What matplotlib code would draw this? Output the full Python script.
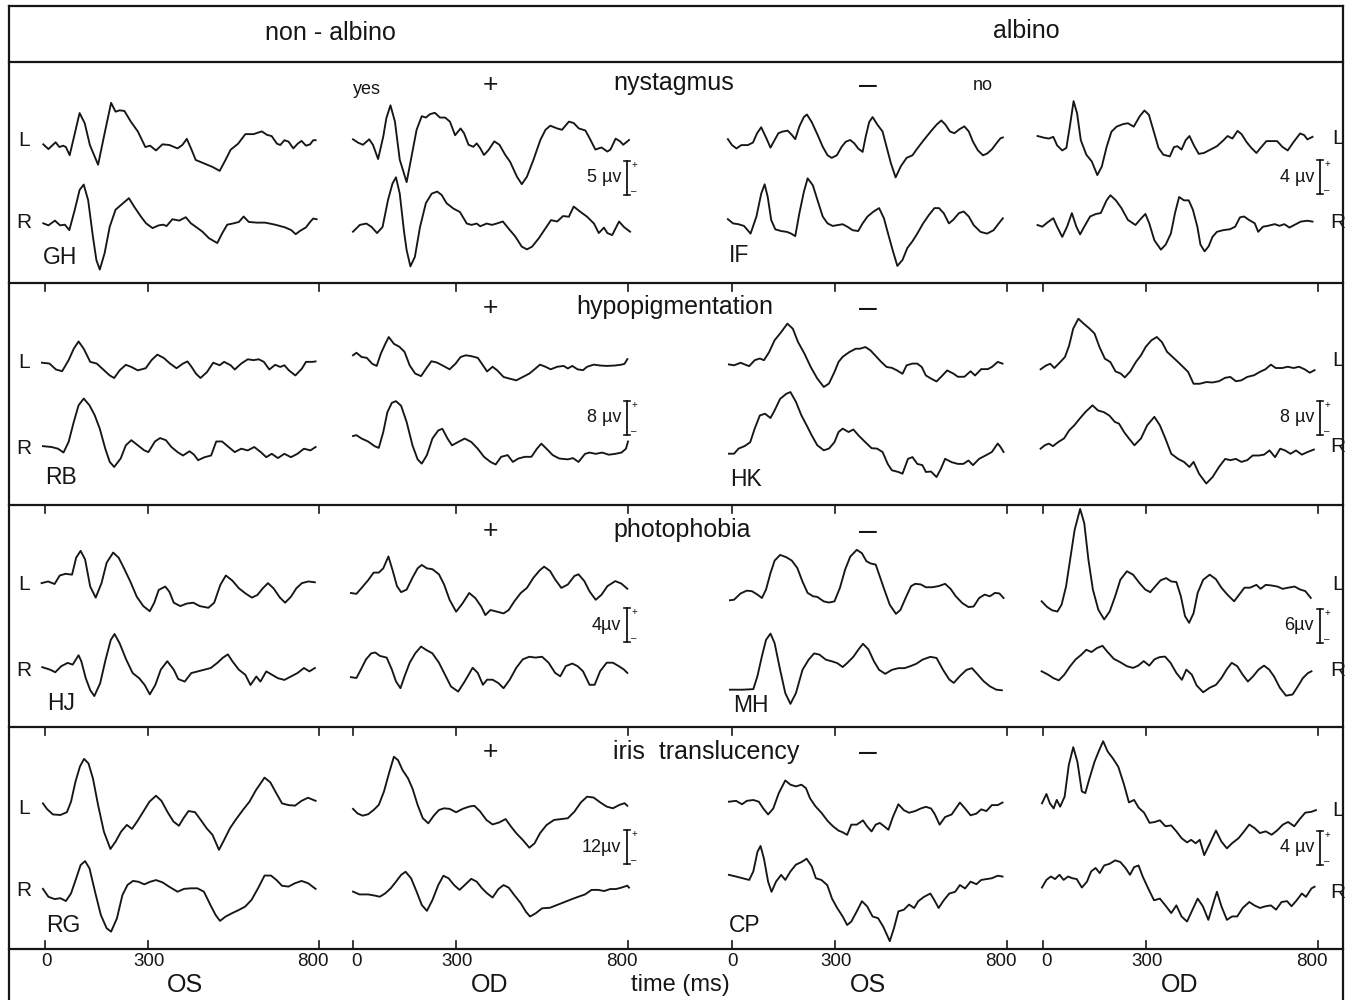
import matplotlib
matplotlib.use("Agg")
import matplotlib.pyplot as plt

plt.rcParams['font.family'] = ['Liberation Sans', 'DejaVu Sans']

# ---------------- data: (time ms, amplitude uV) ----------------
GH_OS_L = [(-5,0.1),(10,-0.6),(31,0.4),(42,-0.3),(53,-0.1),(61,-0.3),(72,-1.5),(87,1.7),(101,4.7),(116,3.2),(131,0.0),(155,-2.9),(174,1.7),(193,6.2),(206,4.9),(218,5.1),(232,5.0),(251,3.4),(271,2.0),(293,-0.3),(307,-0.1),(324,-0.8),(343,0.1),(363,0.0),(387,-0.5),(401,0.0),(414,0.9),(428,-0.7),(440,-2.2),(464,-2.7),(488,-3.2),(510,-3.8),(527,-2.2),(542,-0.7),(564,0.2),(585,1.6),(609,1.6),(633,2.0),(648,1.5),(662,1.3),(677,0.2),(687,0.0),(699,0.7),(711,0.5),(725,-0.5),(738,0.2),(749,0.6),(762,-0.1),(774,0.1),(783,0.7),(790,0.7)]
GH_OS_R = [(-5,0.1),(10,-0.2),(29,0.5),(44,-0.2),(58,-0.1),(71,-0.9),(87,2.1),(101,5.0),(113,5.8),(126,3.5),(140,-1.9),(150,-5.3),(160,-6.7),(174,-4.3),(189,-0.4),(206,2.1),(222,2.8),(245,3.8),(261,2.5),(280,1.1),(295,0.1),(314,-0.6),(332,-0.2),(345,-0.1),(355,-0.3),(372,0.7),(392,0.5),(411,1.0),(426,0.1),(440,-0.4),(459,-1.1),(479,-2.1),(503,-2.8),(517,-1.4),(532,-0.1),(551,0.1),(566,0.3),(580,1.1),(595,0.3),(619,0.2),(643,0.2),(672,-0.1),(701,-0.5),(719,-0.9),(732,-1.5),(745,-1.0),(762,-0.5),(774,0.3),(783,0.8),(793,0.7)]
GH_OD_L = [(0,0.1),(15,-0.4),(29,-0.7),(47,0.1),(58,-0.7),(73,-2.8),(88,0.5),(97,3.2),(109,5.1),(122,2.7),(136,-2.9),(156,-6.2),(170,-2.5),(185,1.5),(200,3.5),(212,3.3),(224,3.8),(238,4.0),(253,3.3),(268,3.3),(282,2.7),(297,0.7),(313,1.7),(323,1.0),(336,-0.7),(350,-1.0),(360,-0.5),(370,-1.2),(381,-2.2),(394,-1.5),(411,-0.2),(426,-0.7),(443,-2.2),(457,-3.2),(477,-5.4),(491,-6.5),(506,-5.4),(525,-2.9),(545,0.0),(560,1.5),(574,2.1),(594,1.7),(608,1.5),(628,2.7),(642,2.5),(657,1.7),(676,1.4),(689,0.2),(705,-1.4),(723,-1.1),(740,-1.7),(749,-1.4),(764,0.2),(777,-0.2),(786,-0.7),(803,0.0)]
GH_OD_R = [(0,0.0),(20,1.0),(39,1.2),(54,0.7),(70,-0.2),(86,0.7),(102,4.7),(115,7.1),(125,8.0),(136,5.6),(148,0.2),(156,-2.7),(167,-5.1),(180,-3.7),(195,0.7),(212,4.2),(229,5.6),(245,5.9),(258,5.4),(272,4.2),(292,3.4),(311,2.9),(331,1.2),(345,1.0),(360,1.2),(370,0.8),(389,1.2),(404,1.0),(418,1.2),(436,1.5),(452,0.5),(472,-0.7),(491,-2.2),(506,-2.6),(521,-2.2),(540,-1.0),(560,0.5),(576,1.7),(594,1.5),(611,2.3),(628,2.2),(642,3.7),(662,2.9),(681,2.2),(701,1.2),(715,-0.2),(730,0.6),(740,-0.2),(754,-0.5),(774,1.5),(788,0.7),(806,0.0)]
IF_OS_L = [(-12,0.1),(0,-0.6),(13,-1.0),(27,-0.6),(46,-0.6),(61,-0.3),(73,0.8),(85,1.5),(100,0.2),(112,-0.9),(124,0.0),(135,0.8),(148,1.0),(162,1.1),(174,0.6),(184,0.1),(196,1.6),(209,2.7),(218,3.0),(232,2.1),(249,0.6),(264,-0.8),(278,-1.8),(290,-2.1),(305,-1.8),(319,-0.8),(331,-0.2),(344,0.0),(356,-0.4),(367,-1.0),(380,-1.4),(389,0.4),(399,2.1),(409,2.7),(423,1.8),(438,1.0),(447,-0.4),(462,-2.7),(476,-4.4),(491,-3.1),(508,-2.1),(525,-1.8),(539,-1.0),(558,0.0),(578,1.0),(595,1.8),(609,2.3),(621,1.8),(634,1.0),(647,0.8),(663,1.3),(676,1.6),(689,1.0),(701,-0.2),(715,-1.2),(730,-1.8),(742,-1.6),(756,-1.1),(771,-0.3),(781,0.2),(788,0.3)]
IF_OS_R = [(-12,0.1),(3,-0.4),(19,-0.5),(35,-0.7),(54,-1.6),(71,0.4),(85,3.1),(95,4.2),(104,2.7),(114,0.0),(126,-1.1),(143,-1.3),(160,-1.4),(172,-1.6),(184,-1.9),(196,0.8),(209,3.3),(220,4.9),(235,4.1),(249,2.3),(264,0.4),(278,-0.4),(293,-0.7),(307,-0.6),(322,-0.5),(336,-0.8),(351,-1.2),(367,-1.3),(380,-0.4),(394,0.4),(412,1.0),(428,1.4),(442,0.2),(454,-1.6),(467,-3.5),(481,-5.4),(496,-4.7),(510,-3.3),(525,-2.5),(539,-1.6),(556,-0.4),(573,0.6),(589,1.4),(602,1.4),(616,0.8),(631,-0.4),(643,0.0),(660,0.8),(674,1.0),(689,0.4),(703,-0.6),(723,-1.4),(742,-1.6),(761,-1.2),(776,-0.4),(788,0.2)]
IF_OD_L = [(-16,0.0),(3,-0.2),(17,-0.3),(30,-0.1),(41,-1.1),(56,-1.7),(68,-1.4),(78,1.1),(89,4.1),(99,2.7),(110,-0.5),(126,-2.2),(142,-3.0),(158,-4.6),(171,-3.6),(185,-1.3),(199,0.5),(214,1.1),(233,1.4),(247,1.5),(264,1.1),(281,2.3),(295,3.0),(308,2.5),(321,0.7),(336,-1.4),(350,-2.2),(369,-2.4),(381,-1.3),(391,-1.2),(403,-1.6),(415,-0.5),(426,0.0),(439,-1.1),(453,-2.1),(468,-2.0),(487,-1.6),(506,-1.2),(525,-0.5),(537,0.0),(551,-0.3),(566,0.6),(578,0.2),(592,-0.7),(606,-1.4),(621,-2.0),(635,-1.3),(650,-0.6),(669,-0.6),(681,-0.6),(697,-1.3),(712,-1.7),(729,-0.7),(748,0.3),(760,0.1),(769,-0.4),(784,-0.1)]
IF_OD_R = [(-16,0.0),(-2,-0.2),(13,0.3),(30,0.8),(41,-0.2),(56,-1.4),(70,-0.2),(84,1.4),(97,-0.2),(108,-1.1),(120,-0.2),(137,1.0),(154,1.3),(168,1.4),(185,2.9),(196,3.5),(212,2.9),(228,2.0),(247,0.6),(269,0.0),(286,0.8),(298,1.3),(309,0.2),(324,-1.8),(343,-2.9),(357,-2.3),(372,-1.0),(384,1.4),(396,3.3),(410,2.9),(424,2.9),(436,1.8),(449,-0.2),(458,-2.3),(470,-3.1),(482,-2.5),(493,-1.4),(506,-0.8),(525,-0.6),(544,-0.5),(559,-0.2),(573,0.9),(585,1.0),(599,0.6),(616,0.2),(626,-0.8),(640,-0.2),(654,-0.1),(674,0.1),(688,-0.1),(702,0.1),(717,-0.3),(731,0.0),(750,0.4),(769,0.5),(784,0.4)]
RB_OS_L = [(-9,0.0),(13,-0.2),(32,-1.6),(50,-2.0),(69,0.6),(84,3.3),(98,5.0),(113,3.3),(132,0.2),(151,-0.2),(170,-1.6),(189,-3.0),(202,-3.6),(218,-1.8),(236,-0.5),(252,-1.0),(271,-1.8),(294,-1.3),(311,0.6),(328,1.9),(347,1.1),(365,-0.2),(384,-1.3),(403,-0.2),(416,0.3),(428,-1.0),(441,-2.6),(454,-3.6),(473,-2.2),(491,0.0),(510,-0.6),(523,0.2),(542,-0.6),(554,-1.6),(573,-0.2),(592,0.8),(609,0.6),(624,0.8),(639,0.2),(655,-1.6),(672,-0.5),(687,-1.0),(699,-0.6),(712,-1.8),(731,-3.0),(750,-1.4),(762,0.2),(781,0.2),(790,0.3)]
RB_OS_R = [(-6,0.2),(19,0.0),(38,-0.4),(54,-1.3),(69,1.2),(84,5.9),(98,9.8),(113,11.4),(130,9.8),(145,7.5),(160,4.3),(176,-0.4),(189,-3.5),(202,-4.7),(221,-2.7),(236,0.4),(252,1.6),(271,0.4),(290,-0.8),(302,-1.2),(321,1.3),(336,2.1),(353,1.6),(369,0.0),(387,-1.2),(403,-2.0),(422,-1.0),(435,-1.8),(447,-3.1),(466,-2.4),(485,-2.0),(500,1.3),(517,1.3),(536,0.0),(554,-1.2),(573,-0.4),(592,-0.8),(611,0.0),(630,-1.2),(646,-2.4),(662,-1.6),(680,-2.6),(699,-1.6),(718,-2.4),(737,-1.6),(756,-0.4),(775,-0.8),(790,0.0)]
RB_OD_L = [(0,0.0),(10,0.6),(25,-0.4),(40,-0.6),(56,-2.0),(69,-2.5),(81,0.4),(94,2.7),(104,4.3),(119,2.7),(135,2.0),(150,0.8),(165,-2.4),(181,-4.3),(198,-4.9),(213,-3.1),(228,-1.4),(244,-1.7),(263,-2.5),(281,-3.3),(298,-2.0),(313,-0.4),(328,0.0),(344,-0.2),(363,-0.6),(375,-2.0),(390,-3.8),(406,-2.7),(419,-3.5),(438,-5.1),(456,-5.5),(475,-5.9),(494,-5.1),(513,-4.3),(528,-3.3),(544,-2.2),(560,-2.7),(575,-3.3),(594,-2.7),(613,-2.5),(625,-3.1),(638,-2.5),(653,-3.3),(669,-3.5),(681,-2.7),(700,-2.2),(719,-2.4),(738,-2.5),(763,-2.4),(781,-2.2),(790,-2.0),(798,-0.9)]
RB_OD_R = [(0,0.0),(10,0.2),(25,-0.6),(44,-1.3),(63,-2.4),(75,-2.8),(88,0.9),(100,5.6),(113,7.8),(125,8.2),(140,7.1),(156,3.3),(173,-2.2),(188,-5.5),(200,-6.5),(215,-4.5),(231,-0.6),(248,1.3),(260,1.7),(275,-0.6),(288,-2.2),(306,-1.4),(325,-0.6),(344,-1.4),(363,-3.0),(381,-4.9),(400,-6.1),(415,-6.7),(431,-4.9),(450,-4.5),(465,-6.1),(481,-5.3),(500,-4.9),(519,-4.9),(535,-3.0),(548,-1.8),(563,-3.0),(581,-4.5),(600,-5.3),(625,-5.5),(640,-5.2),(656,-6.1),(675,-4.2),(688,-3.9),(706,-4.2),(725,-3.9),(744,-4.4),(763,-4.2),(781,-3.9),(794,-3.0),(800,-1.3)]
HK_OS_L = [(-9,0.2),(6,0.0),(25,0.6),(37,0.2),(50,-0.2),(66,1.2),(81,1.6),(93,1.2),(108,3.1),(124,5.9),(143,7.8),(161,9.8),(177,8.6),(192,5.5),(211,2.7),(229,-0.4),(248,-3.1),(267,-5.1),(282,-4.3),(298,-1.6),(310,0.8),(322,2.0),(341,3.1),(360,3.9),(372,3.9),(388,4.3),(403,3.5),(418,2.2),(434,0.8),(450,-0.4),(465,-0.6),(480,-1.2),(496,-2.0),(508,0.0),(525,0.4),(539,0.4),(552,-0.4),(564,-2.4),(583,-3.3),(595,-3.8),(611,-2.5),(626,-1.2),(645,-2.0),(657,-2.7),(676,-2.7),(694,-1.4),(707,-2.4),(725,-0.9),(744,-0.9),(756,-0.4),(773,0.8),(787,0.4)]
HK_OS_R = [(-9,0.0),(6,0.0),(19,1.2),(37,1.8),(53,2.7),(66,5.9),(81,9.0),(96,9.4),(112,8.4),(124,10.2),(140,12.9),(158,14.1),(170,14.5),(186,12.2),(202,9.0),(217,6.7),(232,4.3),(248,2.0),(267,0.8),(282,1.2),(298,2.7),(310,5.1),(322,5.9),(339,5.1),(353,5.7),(368,4.3),(388,2.7),(406,1.3),(422,1.2),(438,0.4),(453,-2.4),(465,-3.9),(484,-4.3),(496,-4.7),(512,-1.2),(525,-0.8),(539,-2.4),(554,-2.7),(564,-4.3),(579,-4.2),(595,-5.5),(608,-3.5),(620,-1.2),(639,-2.0),(657,-2.4),(673,-2.4),(688,-1.6),(701,-2.7),(719,-1.2),(738,-0.4),(756,0.4),(773,2.4),(781,1.6),(790,0.4)]
HK_OD_L = [(-7,0.0),(9,0.9),(21,1.3),(33,0.3),(49,1.6),(64,2.9),(76,5.6),(88,9.6),(103,11.9),(119,10.7),(135,9.6),(150,8.4),(164,5.3),(180,2.5),(196,1.7),(211,-0.5),(226,-1.0),(238,-1.9),(254,-0.5),(270,1.7),(285,3.3),(299,5.3),(315,6.8),(331,7.6),(346,6.4),(361,4.1),(377,2.9),(393,1.7),(407,0.6),(422,-0.6),(438,-3.4),(456,-3.4),(475,-3.0),(493,-3.1),(512,-2.8),(530,-2.0),(545,-1.8),(561,-2.8),(577,-2.6),(594,-1.8),(614,-1.4),(631,-0.6),(647,0.0),(663,1.1),(677,0.3),(696,0.3),(712,0.6),(729,0.3),(745,0.6),(761,0.0),(776,-0.8),(790,-0.2)]
HK_OD_R = [(-7,0.0),(5,0.8),(17,1.2),(29,0.6),(45,1.6),(61,2.4),(76,4.3),(91,5.5),(107,7.1),(123,8.6),(144,10.2),(160,9.0),(177,8.6),(193,7.8),(209,6.3),(221,5.9),(236,3.9),(250,2.4),(266,0.8),(285,2.4),(303,5.5),(324,7.5),(340,5.5),(356,2.4),(373,-1.2),(393,-2.4),(410,-3.1),(426,-4.3),(438,-3.1),(454,-5.9),(475,-8.2),(493,-6.7),(512,-4.3),(530,-2.4),(545,-2.7),(561,-2.4),(577,-3.1),(594,-2.7),(610,-1.6),(628,-1.6),(643,-1.4),(659,-0.4),(675,-2.0),(690,0.0),(704,-0.4),(720,-1.2),(736,-0.4),(753,-1.4),(769,-0.8),(788,-0.2)]
HJ_OS_L = [(-10,-0.1),(9,0.1),(28,-0.2),(43,0.8),(60,1.0),(79,0.9),(91,2.9),(104,3.7),(117,2.7),(132,-0.5),(148,-1.8),(165,-0.1),(180,2.3),(199,3.5),(215,2.9),(230,1.7),(249,0.1),(268,-1.7),(287,-2.8),(306,-3.4),(319,-2.4),(332,-0.9),(351,-0.5),(363,-1.1),(376,-2.4),(395,-2.8),(414,-2.5),(433,-2.4),(452,-2.8),(477,-3.0),(494,-2.4),(512,-0.3),(528,0.8),(547,0.2),(566,-0.7),(585,-1.3),(604,-1.8),(620,-1.5),(636,-0.7),(651,-0.1),(667,-0.7),(686,-1.8),(701,-2.4),(718,-1.7),(734,-0.7),(750,-0.1),(769,0.1),(788,0.0)]
HJ_OS_R = [(-8,0.1),(15,-0.2),(30,-0.5),(47,0.2),(66,0.6),(81,0.4),(98,1.5),(106,0.8),(119,-1.2),(132,-2.6),(144,-3.3),(161,-1.8),(177,1.0),(192,3.3),(203,4.0),(218,2.9),(237,1.0),(256,-0.6),(275,-1.2),(291,-2.0),(306,-3.1),(322,-2.0),(338,-0.2),(357,0.8),(376,-0.2),(389,-1.3),(408,-1.6),(427,-0.6),(446,-0.4),(465,-0.2),(484,0.0),(503,0.6),(519,1.2),(534,1.6),(547,0.8),(566,-0.2),(585,-0.8),(600,-2.0),(617,-1.0),(629,-1.6),(646,-0.4),(663,-0.8),(680,-1.2),(699,-1.4),(718,-1.0),(737,-0.6),(756,0.0),(772,-0.4),(788,0.0)]
HJ_OD_L = [(-6,0.0),(10,-0.1),(25,0.6),(44,1.5),(60,2.4),(75,2.4),(88,2.9),(103,4.3),(115,2.7),(128,0.8),(140,0.1),(156,0.4),(173,1.8),(188,2.9),(200,3.3),(215,2.9),(231,2.8),(250,2.2),(265,1.0),(281,-0.8),(300,-2.2),(319,-1.2),(338,0.0),(356,-0.6),(373,-1.6),(385,-2.6),(400,-2.0),(419,-2.2),(438,-2.4),(453,-2.0),(469,-1.0),(488,0.0),(506,0.6),(525,1.8),(544,2.7),(556,3.1),(573,2.6),(588,1.6),(606,0.6),(625,1.0),(644,2.0),(656,2.2),(673,1.4),(688,0.2),(706,-0.8),(723,-0.2),(740,0.8),(763,1.4),(781,1.1),(798,0.5)]
HJ_OD_R = [(-6,-0.1),(10,-0.2),(23,0.8),(38,2.0),(53,2.7),(65,2.8),(78,2.4),(98,2.2),(113,0.8),(125,-0.6),(138,-1.4),(150,0.0),(165,1.6),(181,2.7),(198,3.5),(213,3.1),(231,2.7),(250,1.6),(265,0.4),(285,-1.2),(306,-1.8),(325,-0.6),(348,1.0),(363,0.4),(378,-1.0),(390,-0.4),(406,-0.4),(423,-0.8),(438,-1.4),(456,-0.4),(475,1.0),(494,2.0),(513,2.3),(531,2.2),(550,2.3),(569,1.6),(588,0.4),(603,0.0),(619,1.2),(638,1.5),(653,1.2),(669,0.6),(688,-1.0),(703,-1.0),(719,0.6),(738,1.6),(756,1.6),(773,1.2),(788,0.8),(798,0.4)]
MH_OS_L = [(-6,-0.1),(6,0.0),(25,1.1),(43,1.6),(58,1.5),(74,0.9),(87,0.3),(99,1.8),(112,4.7),(124,6.9),(140,7.9),(158,7.5),(174,6.9),(190,5.6),(205,3.2),(220,1.2),(236,0.6),(248,0.5),(267,-0.3),(282,-0.5),(298,-0.3),(314,2.1),(329,5.3),(344,7.6),(363,8.8),(378,8.2),(391,6.8),(403,6.4),(418,6.2),(430,4.1),(443,1.8),(459,-0.9),(477,-2.5),(490,-1.8),(505,0.3),(521,2.4),(533,2.8),(549,2.7),(564,2.2),(583,2.2),(601,2.4),(620,2.8),(636,1.9),(651,0.6),(670,-0.6),(688,-1.3),(703,-1.2),(719,0.3),(735,0.9),(750,0.6),(765,1.2),(778,1.1),(790,0.3)]
MH_OS_R = [(-6,0.0),(31,0.0),(62,0.1),(74,2.4),(87,5.9),(99,8.8),(112,9.9),(124,8.2),(140,3.5),(155,-0.6),(170,-2.5),(186,-0.6),(205,3.5),(223,5.3),(239,6.4),(254,6.2),(273,5.3),(291,5.0),(306,4.7),(322,4.0),(335,4.7),(353,5.8),(368,7.1),(381,8.1),(397,7.1),(413,5.0),(428,3.5),(446,2.8),(465,3.5),(484,3.8),(502,3.8),(521,4.2),(537,4.6),(554,5.3),(577,5.8),(595,5.6),(614,3.5),(632,1.8),(645,1.2),(663,2.4),(682,3.5),(698,3.8),(713,2.8),(732,1.5),(750,0.6),(769,0.0),(785,-0.1)]
MH_OD_L = [(-4,0.0),(12,-1.0),(27,-1.6),(42,-1.8),(54,-0.6),(67,2.6),(79,7.4),(92,12.6),(108,16.3),(120,13.8),(132,7.4),(145,2.1),(161,-1.5),(178,-3.2),(194,-1.8),(210,0.9),(225,3.8),(244,5.3),(262,4.7),(281,3.2),(297,2.1),(312,1.6),(326,2.6),(342,3.7),(358,4.1),(373,3.5),(388,3.4),(401,0.9),(413,-2.6),(425,-3.8),(438,-2.1),(450,1.5),(466,3.8),(485,4.7),(503,3.9),(519,2.4),(536,1.2),(556,0.0),(571,1.2),(586,2.4),(602,2.4),(621,2.9),(633,2.2),(648,2.9),(664,2.8),(682,2.6),(697,2.2),(713,2.4),(732,2.6),(747,2.1),(763,1.8),(779,0.6)]
MH_OD_R = [(-4,0.0),(15,-0.6),(30,-1.2),(46,-1.6),(62,-0.6),(79,0.9),(95,2.1),(111,2.9),(126,3.8),(141,3.4),(157,4.1),(173,4.5),(188,3.4),(206,2.2),(225,1.6),(244,0.9),(262,0.6),(277,1.0),(293,1.8),(309,1.0),(324,2.1),(339,2.5),(355,2.6),(371,1.5),(388,-0.3),(404,-1.5),(417,0.3),(433,-0.6),(447,-2.5),(466,-3.7),(485,-2.9),(503,-2.4),(519,-1.2),(534,0.3),(549,1.5),(565,0.9),(581,-0.6),(596,-1.8),(611,-0.9),(627,0.3),(643,1.0),(658,0.3),(672,-0.9),(689,-2.9),(707,-4.3),(726,-4.1),(742,-2.6),(756,-1.2),(771,-0.3),(781,0.0)]
RG_OS_L = [(-6,3.5),(6,1.5),(23,-0.4),(45,-0.6),(64,0.4),(76,4.1),(89,11.2),(102,16.5),(114,19.2),(127,17.6),(140,12.3),(155,2.9),(172,-6.5),(191,-12.6),(206,-10.0),(222,-6.5),(239,-4.1),(254,-5.5),(269,-2.9),(286,0.4),(305,4.1),(324,6.2),(340,4.4),(358,0.4),(375,-2.9),(391,-4.4),(404,-1.8),(419,0.8),(438,0.4),(455,-2.4),(472,-5.3),(489,-7.6),(508,-12.9),(523,-9.4),(540,-5.3),(556,-2.4),(578,1.2),(597,4.1),(616,8.2),(641,12.6),(658,10.9),(673,7.6),(692,3.5),(711,2.9),(730,2.7),(749,4.4),(768,5.5),(790,4.4)]
RG_OS_R = [(-6,0.4),(10,-2.4),(28,-3.2),(45,-2.9),(61,-3.9),(76,-1.2),(91,4.1),(104,8.8),(117,10.2),(130,7.6),(146,-0.6),(163,-8.8),(180,-13.5),(193,-14.7),(210,-10.0),(226,-1.8),(241,1.8),(257,3.2),(273,2.9),(290,2.0),(307,2.9),(324,3.5),(343,2.7),(362,1.2),(387,-0.6),(406,0.4),(426,0.6),(445,0.6),(464,-0.6),(483,-5.3),(498,-8.8),(511,-10.9),(527,-9.4),(546,-8.2),(565,-7.1),(584,-5.9),(603,-3.5),(622,0.6),(641,5.1),(660,5.1),(676,3.5),(692,1.5),(711,1.2),(730,2.4),(749,3.2),(768,2.4),(790,0.4)]
RG_OD_L = [(0,0.4),(13,-1.2),(28,-2.0),(44,-1.5),(60,0.0),(75,1.8),(90,6.5),(106,13.5),(119,18.8),(131,17.6),(144,14.1),(160,11.2),(173,7.6),(188,1.8),(203,-2.9),(219,-4.7),(235,-2.0),(250,0.0),(265,0.6),(281,0.4),(300,-0.8),(319,0.4),(338,1.2),(353,1.5),(369,-0.4),(388,-3.5),(406,-5.1),(425,-4.4),(444,-3.2),(460,-5.9),(475,-8.2),(494,-10.6),(513,-13.3),(528,-11.8),(544,-8.2),(563,-5.3),(585,-3.5),(606,-3.2),(625,-2.9),(644,-0.6),(663,2.7),(681,4.7),(700,4.4),(719,2.7),(738,1.2),(756,0.6),(775,1.8),(790,2.4),(798,1.5)]
RG_OD_R = [(0,0.6),(19,-0.4),(44,-0.4),(63,-0.8),(78,-1.2),(94,0.0),(110,1.8),(125,4.1),(140,6.5),(153,7.6),(169,5.3),(185,0.6),(200,-4.1),(215,-6.2),(231,-2.4),(248,2.9),(263,6.2),(278,5.3),(294,2.9),(310,1.2),(325,2.9),(344,5.1),(360,4.1),(375,1.8),(390,0.0),(406,-1.5),(423,1.5),(438,2.9),(453,2.0),(469,-0.6),(488,-3.5),(503,-6.5),(515,-8.2),(531,-7.1),(550,-5.3),(573,-5.1),(594,-4.1),(613,-3.2),(638,-2.0),(656,-1.2),(675,-0.4),(694,1.2),(713,1.2),(731,0.8),(748,1.5),(765,1.5),(781,2.0),(798,2.7),(803,2.0)]
CP_OS_L = [(-9,0.0),(12,0.1),(29,-0.3),(43,0.1),(62,0.2),(78,0.0),(91,-0.8),(105,-1.5),(120,-0.8),(136,1.0),(155,2.5),(170,2.0),(186,1.8),(202,2.0),(215,1.6),(227,0.4),(242,-0.5),(260,-1.3),(279,-2.3),(294,-2.9),(310,-3.4),(322,-3.6),(335,-3.9),(347,-2.7),(363,-2.7),(381,-2.2),(393,-2.9),(406,-3.5),(418,-2.7),(430,-2.5),(443,-2.9),(455,-3.3),(468,-1.8),(484,-0.3),(500,-1.0),(515,-1.3),(533,-1.1),(549,-0.8),(564,-0.6),(579,-0.8),(589,-1.4),(604,-2.7),(620,-1.8),(639,-1.5),(651,-0.8),(663,-0.1),(678,-0.8),(694,-1.6),(711,-1.4),(725,-0.9),(740,-1.1),(756,-0.4),(773,-0.4),(787,-0.1)]
CP_OS_R = [(-9,0.1),(12,-0.1),(31,-0.3),(50,-0.5),(62,0.5),(74,2.8),(83,3.5),(93,2.0),(105,-0.7),(115,-1.9),(128,-0.7),(143,0.1),(155,-0.5),(170,0.5),(186,1.3),(202,1.6),(217,2.0),(232,1.1),(244,-0.3),(260,-0.5),(277,-1.1),(291,-2.7),(306,-3.8),(322,-4.8),(335,-5.8),(347,-5.4),(363,-4.2),(378,-3.0),(393,-3.6),(409,-4.8),(425,-5.0),(440,-6.0),(459,-7.7),(471,-6.2),(484,-4.2),(500,-4.0),(515,-3.4),(530,-3.8),(542,-3.0),(558,-2.5),(577,-2.1),(589,-2.9),(601,-3.8),(616,-2.9),(632,-2.1),(649,-1.9),(663,-1.1),(678,-1.5),(694,-0.7),(711,-1.0),(725,-0.5),(740,-0.4),(756,-0.3),(773,0.0),(787,-0.1)]
CP_OD_L = [(-3,0.0),(10,1.1),(20,0.0),(31,-0.6),(40,0.4),(50,-0.4),(63,0.8),(75,4.5),(88,6.6),(100,4.9),(113,1.4),(123,1.2),(135,2.9),(150,4.9),(163,6.2),(175,7.3),(188,6.1),(203,5.3),(219,4.3),(235,2.3),(250,0.1),(265,0.4),(278,-0.5),(294,-1.1),(310,-2.3),(325,-2.2),(340,-2.0),(356,-2.7),(373,-2.6),(388,-3.3),(403,-4.1),(419,-4.6),(431,-4.3),(444,-4.7),(456,-4.3),(469,-6.1),(488,-4.5),(503,-3.2),(519,-4.5),(535,-5.3),(550,-4.7),(569,-4.1),(585,-3.3),(600,-2.5),(615,-2.9),(631,-3.5),(648,-3.3),(665,-3.7),(681,-3.2),(698,-2.5),(713,-2.2),(731,-2.7),(748,-1.8),(763,-1.1),(781,-1.0),(794,-0.8)]
CP_OD_R = [(-3,-0.1),(10,0.8),(23,1.2),(35,0.9),(48,1.4),(60,0.8),(73,1.2),(85,1.0),(98,0.9),(113,-0.1),(128,0.6),(140,1.8),(153,2.2),(165,1.6),(178,2.5),(194,2.7),(210,3.1),(225,2.9),(240,2.2),(253,1.4),(265,2.3),(278,2.5),(290,1.2),(306,-0.2),(323,-1.6),(340,-1.4),(356,-2.2),(373,-3.1),(388,-2.2),(403,-3.5),(419,-4.1),(435,-2.7),(450,-1.4),(465,-2.3),(481,-3.9),(498,-1.6),(506,-0.6),(519,-2.3),(535,-3.9),(550,-3.5),(565,-3.5),(581,-2.5),(600,-1.8),(615,-2.2),(631,-2.5),(648,-2.3),(663,-2.2),(678,-2.7),(694,-1.8),(710,-1.7),(723,-2.3),(738,-1.6),(753,-0.8),(765,-1.2),(781,-0.2),(790,0.0)]

header_titles = ["non - albino", "albino"]
criteria = ["nystagmus", "hypopigmentation", "photophobia", "iris  translucency"]
subjects_nonalbino = ["GH", "RB", "HJ", "RG"]
subjects_albino = ["IF", "HK", "MH", "CP"]
cal_nonalbino = [5, 8, 4, 12]          # calibration bar, uV
cal_albino = [4, 8, 6, 4]
cal_labels_nonalbino = ["5 \u00b5v", "8 \u00b5v", "4\u00b5v", "12\u00b5v"]
cal_labels_albino = ["4 \u00b5v", "8 \u00b5v", "6\u00b5v", "4 \u00b5v"]
time_ticks = [0, 300, 800]
eye_labels = ["OS", "OD", "OS", "OD"]

TRACES = [
    [(GH_OS_L, GH_OS_R), (GH_OD_L, GH_OD_R), (IF_OS_L, IF_OS_R), (IF_OD_L, IF_OD_R)],
    [(RB_OS_L, RB_OS_R), (RB_OD_L, RB_OD_R), (HK_OS_L, HK_OS_R), (HK_OD_L, HK_OD_R)],
    [(HJ_OS_L, HJ_OS_R), (HJ_OD_L, HJ_OD_R), (MH_OS_L, MH_OS_R), (MH_OD_L, MH_OD_R)],
    [(RG_OS_L, RG_OS_R), (RG_OD_L, RG_OD_R), (CP_OS_L, CP_OS_R), (CP_OD_L, CP_OD_R)],
]

# ---------------- layout (pixels) ----------------
W, H = 1351, 1000
INK = '#161616'
BAR_PX = 34.0
COL_PX = [(45, 319), (353, 628), (732, 1007), (1043, 1318)]
BASE = [
    [(145, 224), (140, 231.7), (140, 220), (136, 225)],
    [(362.7, 447), (355.3, 436), (365.3, 453.7), (369.3, 448.7)],
    [(582.3, 668), (593, 676.3), (599.7, 689.7), (601.3, 671.3)],
    [(813.3, 890), (810, 893.3), (801.7, 875.7), (803.3, 886.7)],
]
SEP_Y = [283, 505, 727]
AXIS_Y = 949
HEADER_Y = 62
BAR_X = (627, 1320)
BAR_TOP = [(161, 160), (401, 401), (608, 609), (830, 831)]
CRIT_X = [(613, 83), (576, 307), (613, 530), (613, 752)]
PLUS_Y = [85, 308, 531, 752]
LR_LEFT = [(141, 223), (363, 448), (584, 670), (809, 891)]
LR_RIGHT = [(138, 223), (361, 447), (585, 670), (811, 893)]
INIT_NA = [(60, 257), (61, 478), (61, 703), (63, 926)]
INIT_A = [(739, 255), (746, 479), (751, 705), (745, 925)]

fig = plt.figure(figsize=(W / 100, H / 100), dpi=100)
fig.patch.set_facecolor('white')

ov = fig.add_axes([0, 0, 1, 1])
ov.set_xlim(0, W)
ov.set_ylim(H, 0)
ov.set_axis_off()


def tx(t, col):
    x0, x1 = COL_PX[col]
    return x0 + t / 800.0 * (x1 - x0)


# frame
lw_f = 1.6
ov.plot([9, 9], [6, 1000], color=INK, lw=lw_f)
ov.plot([1343, 1343], [6, 1000], color=INK, lw=lw_f)
ov.plot([9, 1343], [6, 6], color=INK, lw=lw_f)
ov.plot([9, 1343], [HEADER_Y, HEADER_Y], color=INK, lw=lw_f)
for i, y in enumerate(SEP_Y):
    ov.plot([9, 1343], [y, y], color=INK, lw=lw_f)
    for c in range(4):
        for tt in time_ticks:
            if c == 1 and tt == 0 and i < 2:
                continue
            xx = tx(tt, c)
            ov.plot([xx, xx], [y, y + 8], color=INK, lw=1.2)
ov.plot([9, 1343], [AXIS_Y, AXIS_Y], color=INK, lw=lw_f)
for c in range(4):
    for tt in time_ticks:
        xx = tx(tt, c)
        ov.plot([xx, xx], [AXIS_Y - 8, AXIS_Y], color=INK, lw=1.2)
        dx = -6 if tt == 800 else (4 if (tt == 0 and c in (1, 3)) else 1)
        ov.text(xx + dx, 962, str(tt), ha='center', va='center', fontsize=13.5, color=INK)

eye_x = [185, 490, 868, 1180]
for c in range(4):
    ov.text(eye_x[c], 985, eye_labels[c], ha='center', va='center', fontsize=18, color=INK)
ov.text(680, 985, "time (ms)", ha='center', va='center', fontsize=17, color=INK)

# header
ov.text(330, 33, header_titles[0], ha='center', va='center', fontsize=18, color=INK)
ov.text(1026, 31, header_titles[1], ha='center', va='center', fontsize=18, color=INK)

# panel texts
for p in range(4):
    cx, cy = CRIT_X[p]
    ov.text(cx, cy, criteria[p], ha='left', va='center', fontsize=18, color=INK)
    ov.text(490, PLUS_Y[p], "+", ha='center', va='center', fontsize=19, color=INK)
    ov.text(868, PLUS_Y[p] + 1, "\u2013", ha='center', va='center', fontsize=23, color=INK)
    ov.text(24, LR_LEFT[p][0], "L", ha='center', va='center', fontsize=15, color=INK)
    ov.text(24, LR_LEFT[p][1], "R", ha='center', va='center', fontsize=15, color=INK)
    ov.text(1338, LR_RIGHT[p][0], "L", ha='center', va='center', fontsize=15, color=INK)
    ov.text(1338, LR_RIGHT[p][1], "R", ha='center', va='center', fontsize=15, color=INK)
    ov.text(INIT_NA[p][0], INIT_NA[p][1], subjects_nonalbino[p], ha='center', va='center', fontsize=16.5, color=INK)
    ov.text(INIT_A[p][0], INIT_A[p][1], subjects_albino[p], ha='center', va='center', fontsize=16.5, color=INK)
ov.text(367, 89, "yes", ha='center', va='center', fontsize=13, color=INK)
ov.text(983, 86, "no", ha='center', va='center', fontsize=13, color=INK)

# traces
HALF = 120
for p in range(4):
    for c in range(4):
        cal = cal_nonalbino[p] if c < 2 else cal_albino[p]
        k = BAR_PX / cal  # px per uV
        x0, x1 = COL_PX[c]
        for s in range(2):
            base = BASE[p][c][s]
            ax = fig.add_axes([x0 / W, (H - base - HALF) / H, (x1 - x0) / W, 2 * HALF / H])
            ax.set_facecolor('none')
            ax.set_xlim(0, 800)
            ax.set_ylim(-HALF / k, HALF / k)
            ax.set_axis_off()
            data = TRACES[p][c][s]
            ax.plot([d[0] for d in data], [d[1] for d in data], color=INK, lw=1.35,
                    solid_joinstyle='round', clip_on=False)
            # calibration bar next to the OD columns, drawn in uV
            if s == 0 and c in (1, 3):
                side = 0 if c == 1 else 1
                bx = BAR_X[side]
                top = BAR_TOP[p][side]
                tb = (bx - x0) / (x1 - x0) * 800
                vt = (base - top) / k
                dt = 3.0 / (x1 - x0) * 800
                ax.plot([tb, tb], [vt, vt - cal], color=INK, lw=1.3, clip_on=False)
                ax.plot([tb - dt, tb + dt], [vt, vt], color=INK, lw=1.2, clip_on=False)
                ax.plot([tb - dt, tb + dt], [vt - cal, vt - cal], color=INK, lw=1.2, clip_on=False)
                lab = cal_labels_nonalbino[p] if side == 0 else cal_labels_albino[p]
                ov.text(bx - 6, top + 17, lab, ha='right', va='center', fontsize=13, color=INK)
                ov.text(bx + 7, top + 4, "+", ha='center', va='center', fontsize=7, color=INK)
                ov.text(bx + 7, top + 30, "\u2013", ha='center', va='center', fontsize=7, color=INK)

fig.savefig("out.png", dpi=100, facecolor='white')
